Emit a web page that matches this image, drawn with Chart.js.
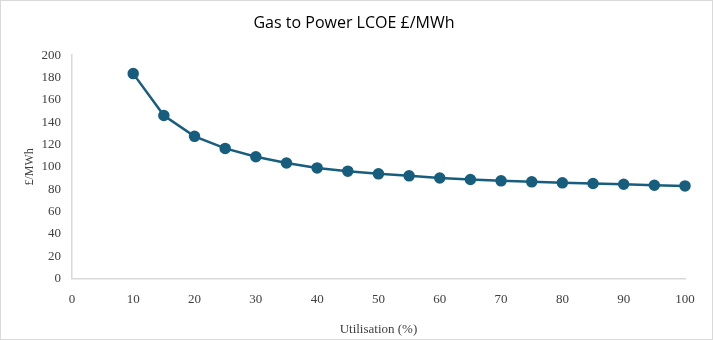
<!DOCTYPE html>
<html><head><meta charset="utf-8">
<script src="https://cdn.jsdelivr.net/npm/chart.js@4/dist/chart.umd.min.js"></script>
<style>html,body{margin:0;padding:0;background:#fff;}canvas{display:block;}</style>
</head><body>
<canvas id="c" width="713" height="340"></canvas>
<script>
const utilisation = [10,15,20,25,30,35,40,45,50,55,60,65,70,75,80,85,90,95,100];
const lcoe = [183.5,146,127.3,116.5,109,103.4,99,96.1,93.7,91.9,90,88.6,87.4,86.5,85.6,85,84.4,83.5,82.9];
const chartTitle = 'Gas to Power LCOE £/MWh';
const xTitle = 'Utilisation (%)';
const yTitle = '£/MWh';

const frame = {
  id:'frame',
  beforeDraw(ch){const c=ch.ctx;c.save();c.fillStyle='#fff';c.fillRect(0,0,ch.width,ch.height);c.strokeStyle='#d9d9d9';c.lineWidth=1;c.strokeRect(0.5,0.5,ch.width-1,ch.height-1);c.restore();}
};
new Chart(document.getElementById('c'),{
  type:'line',
  data:{datasets:[{data:utilisation.map((x,i)=>({x,y:lcoe[i]})),borderColor:'#175e7e',backgroundColor:'#175e7e',borderWidth:2.5,pointRadius:4.5,pointHoverRadius:4.5,tension:0,clip:false}]},
  options:{
    responsive:false,animation:false,
    layout:{padding:{left:23,right:28,top:8,bottom:3}},
    plugins:{legend:{display:false},tooltip:{enabled:false},
      title:{display:true,text:chartTitle,color:'#000',font:{family:'Open Sans',size:16,weight:'normal'},padding:{top:6,bottom:22}}},
    scales:{
      x:{type:'linear',min:0,max:100,ticks:{stepSize:10,color:'#404040',font:{family:'Liberation Serif',size:13,lineHeight:1},padding:15},
        grid:{display:false,drawTicks:false},border:{color:'#d9d9d9',width:1.5},
        title:{display:true,text:xTitle,color:'#404040',font:{family:'Liberation Serif',size:13},padding:{top:0,bottom:0}}},
      y:{min:0,max:200,ticks:{stepSize:20,color:'#404040',font:{family:'Liberation Serif',size:13},padding:11},
        grid:{display:false,drawTicks:false},border:{color:'#d9d9d9',width:1.5},
        afterFit(s){s.width-=7;},
        title:{display:true,text:yTitle,color:'#404040',font:{family:'Liberation Serif',size:12},padding:{top:0,bottom:0}}}
    }
  },
  plugins:[frame]
});
</script>
</body></html>
